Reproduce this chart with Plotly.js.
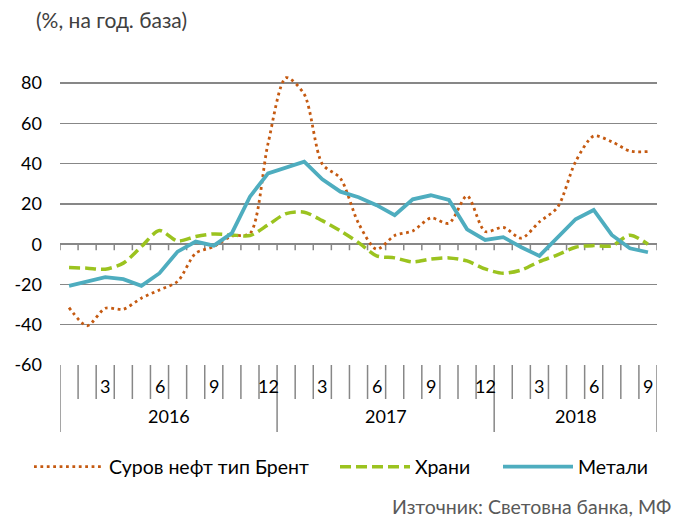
<!DOCTYPE html>
<html>
<head>
<meta charset="utf-8">
<script src="https://cdn.plot.ly/plotly-3.0.1.min.js"></script>
<style>html,body{margin:0;padding:0;background:#fff;}#chart{width:689px;height:518px;}</style>
</head>
<body>
<div id="chart"></div>
<script>
// ---- data ----
const years = ['2016', '2017', '2018'];
const monthsPerYear = [12, 12, 9];
const shownMonths = ['3', '6', '9', '12'];

const brent = [-31.5, -40.5, -31.8, -32.3, -26.8, -22.7, -18.5, -4.5, -1.2, 4.1, 5.3, 50,
               82.7, 74.5, 39.8, 32.7, 10.4, -2.5, 4.3, 6.6, 13, 10.4, 24, 6.3,
               8.4, 3, 11.1, 18.3, 41, 53.7, 50.9, 46.3, 46];
const food = [-11.6, -11.9, -12.4, -9.4, -1.2, 6.8, 1.6, 3.8, 5.1, 4.6, 4.3, 9.6,
              15.2, 15.9, 11.7, 6.6, 0.8, -5.8, -6.8, -8.8, -7.4, -6.8, -8.3, -12.3,
              -14.4, -12.8, -8.6, -5.3, -1.5, -0.7, -0.8, 4.5, 0];
const metals = [-20.7, -18.5, -16.4, -17.4, -20.7, -14.4, -3.7, 1.3, -0.7, 5.5, 23.6, 35.2,
                38, 41, 32.2, 26.1, 23.3, 19.4, 14.4, 22.3, 24.3, 22, 7.4, 2.1,
                3.5, -1.5, -5.8, 3, 12.4, 17, 4.6, -2, -4];

const seriesNames = ['Суров нефт тип Брент', 'Храни', 'Метали'];
const yTicks = [-60, -40, -20, 0, 20, 40, 60, 80];
const titleText = '(%, на год. база)';
const sourceText = 'Източник: Световна банка, МФ';

// ---- build x positions (month index) ----
const x = [];
const monthText = [];
const yearStart = [];
let idx = 0;
monthsPerYear.forEach((n) => {
  yearStart.push(idx + 1);
  for (let m = 1; m <= n; m++) { idx++; x.push(idx); monthText.push(String(m)); }
});
const nMonths = x.length;

const FONT = 'Lato, "Open Sans", sans-serif';
const GRAY = '#878787';
const ptop = 63, pbot = 365, pH = pbot - ptop;
const py = (pix) => (pbot - pix) / pH; // pixel -> paper y

const traces = [
  {x: x, y: brent, name: seriesNames[0], type: 'scatter', mode: 'lines',
   line: {color: '#C55A11', width: 2.8, dash: '2.8px,3.6px', shape: 'spline', smoothing: 0.8},
   legend: 'legend'},
  {x: x, y: food, name: seriesNames[1], type: 'scatter', mode: 'lines',
   line: {color: '#9BC31F', width: 3.5, dash: '11px,5px', shape: 'spline', smoothing: 0.8},
   legend: 'legend2'},
  {x: x, y: metals, name: seriesNames[2], type: 'scatter', mode: 'lines',
   line: {color: '#4EADBF', width: 3.8},
   legend: 'legend3'}
];

// ---- category axis separators ----
const shapes = [];
const yearBoundaries = [0];
let acc = 0;
monthsPerYear.forEach(n => { acc += n; yearBoundaries.push(acc); });
for (let j = 0; j <= nMonths; j++) {
  const isYear = yearBoundaries.indexOf(j) >= 0;
  shapes.push({type: 'line', xref: 'x', yref: 'paper', x0: j + 0.5, x1: j + 0.5,
               y0: 0, y1: isYear ? py(432) : py(399), line: {color: GRAY, width: 1.5}});
  shapes.push({type: 'line', xref: 'x', yref: 'y', x0: j + 0.5, x1: j + 0.5,
               y0: 0, y1: -3, line: {color: GRAY, width: 1.5}, layer: 'below'});
}

// ---- labels ----
const annotations = [];
x.forEach((xi, i) => {
  if (shownMonths.indexOf(monthText[i]) >= 0) {
    annotations.push({x: xi, y: py(386), xref: 'x', yref: 'paper', text: monthText[i],
                      showarrow: false, xanchor: 'center', yanchor: 'middle',
                      font: {family: FONT, size: 18, color: '#000'}});
  }
});
years.forEach((yr, i) => {
  const start = yearStart[i] - 0.5, end = start + monthsPerYear[i];
  annotations.push({x: (start + end) / 2, y: py(416), xref: 'x', yref: 'paper', text: yr,
                    showarrow: false, xanchor: 'center', yanchor: 'middle',
                    font: {family: FONT, size: 18, color: '#000'}});
});
annotations.push({x: (673 - 60) / 597, y: py(506), xref: 'paper', yref: 'paper', text: sourceText,
                  showarrow: false, xanchor: 'right', yanchor: 'middle',
                  font: {family: FONT, size: 19.5, color: '#595959'}});

const ITEMW = 70;
const legendBase = {orientation: 'h', yanchor: 'middle', xanchor: 'left', y: py(467),
                    itemwidth: ITEMW,
                    font: {family: FONT, size: 19.5, color: '#000'}, bgcolor: 'rgba(0,0,0,0)'};

const layout = {
  width: 689, height: 518,
  margin: {l: 60, r: 32, t: ptop, b: 518 - pbot, pad: 0},
  paper_bgcolor: '#fff', plot_bgcolor: '#fff',
  font: {family: FONT, size: 18, color: '#000'},
  title: {text: titleText, x: 36 / 689, xanchor: 'left', xref: 'container',
          y: 1 - 21 / 518, yanchor: 'middle', yref: 'container',
          font: {family: FONT, size: 21, color: '#404040'}},
  xaxis: {range: [0.5, nMonths + 0.5], showgrid: false, zeroline: false, showline: false,
          showticklabels: false, ticks: '', fixedrange: true},
  yaxis: {range: [-60, 90], tickvals: yTicks, ticktext: yTicks.map(String),
          showgrid: true, gridcolor: GRAY, gridwidth: 1.5, zeroline: false, showline: false,
          ticks: '', ticklabelstandoff: 17, tickfont: {family: FONT, size: 18, color: '#000'}},
  showlegend: true,
  legend: Object.assign({}, legendBase, {x: (111 - ITEMW - 12 - 60) / 597}),
  legend2: Object.assign({}, legendBase, {x: (417 - ITEMW - 12 - 60) / 597}),
  legend3: Object.assign({}, legendBase, {x: (580 - ITEMW - 12 - 60) / 597}),
  shapes: shapes,
  annotations: annotations
};

Plotly.newPlot('chart', traces, layout, {displayModeBar: false, staticPlot: true});
</script>
</body>
</html>
